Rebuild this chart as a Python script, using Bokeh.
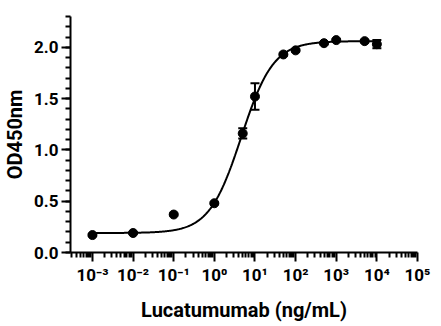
import numpy as np
from bokeh.plotting import figure
from bokeh.models import (ColumnDataSource, Range1d, FixedTicker, Whisker, TeeHead)
from bokeh.embed import file_html
from bokeh.resources import INLINE

# ---- data ----
conc = [0.001, 0.01, 0.1, 1, 5, 10, 50, 100, 500, 1000, 5000, 10000]
od = [0.17, 0.19, 0.37, 0.48, 1.16, 1.52, 1.93, 1.97, 2.04, 2.07, 2.06, 2.03]
err = [0.01, 0.01, 0.01, 0.01, 0.05, 0.13, 0.01, 0.01, 0.01, 0.01, 0.01, 0.04]

# 4PL fit parameters (fitted curve of the reference)
fit_bottom = 0.19
fit_top = 2.06
fit_ec50 = 4.6
fit_hill = 1.1
fit_x_min_exp = -3
fit_x_max_exp = 4

x_tick_exps = [-3, -2, -1, 0, 1, 2, 3, 4, 5]
x_tick_labels = ["10⁻³", "10⁻²", "10⁻¹", "10⁰", "10¹", "10²", "10³", "10⁴", "10⁵"]
y_ticks = [0.0, 0.5, 1.0, 1.5, 2.0]
y_tick_labels = ["0.0", "0.5", "1.0", "1.5", "2.0"]

FONT = "Roboto"

p = figure(
    x_axis_type="log",
    frame_width=347, frame_height=236,
    min_border_left=62, min_border_right=16, min_border_top=16, min_border_bottom=58,
    x_range=Range1d(10 ** -3.54, 1e5), y_range=Range1d(0, 2.3),
    output_backend="svg", toolbar_location=None,
)
p.outline_line_color = None
p.xgrid.visible = False
p.ygrid.visible = False
p.background_fill_color = "white"
p.border_fill_color = "white"

# fitted curve
xs = np.logspace(fit_x_min_exp, fit_x_max_exp, 400)
ys = fit_bottom + (fit_top - fit_bottom) / (1 + (fit_ec50 / xs) ** fit_hill)
p.line(xs, ys, line_color="black", line_width=2)

# data points with error bars
src = ColumnDataSource(dict(
    x=conc, y=od,
    upper=[v + e for v, e in zip(od, err)],
    lower=[v - e for v, e in zip(od, err)],
))
wh = Whisker(base="x", upper="upper", lower="lower", source=src,
             line_color="black", line_width=2,
             upper_head=TeeHead(size=9, line_width=2, line_color="black"),
             lower_head=TeeHead(size=9, line_width=2, line_color="black"))
p.add_layout(wh)
p.scatter("x", "y", source=src, size=9, color="black")

# x axis
major_x = [10.0 ** e for e in x_tick_exps]
minor_x = [k * 10.0 ** e for e in range(-4, 5) for k in range(2, 10)
           if 10 ** -3.54 <= k * 10.0 ** e <= 1e5]
p.xaxis.ticker = FixedTicker(ticks=major_x, minor_ticks=minor_x)
p.xaxis.major_label_overrides = {t: l for t, l in zip(major_x, x_tick_labels)}
p.xaxis.axis_label = "Lucatumumab (ng/mL)"

# y axis
p.yaxis.ticker = FixedTicker(ticks=y_ticks,
                             minor_ticks=[round(i * 0.1, 1) for i in range(0, 24)])
p.yaxis.major_label_overrides = {t: l for t, l in zip(y_ticks, y_tick_labels)}
p.yaxis.axis_label = "OD450nm"

for ax in (p.xaxis, p.yaxis):
    ax.axis_line_width = 2
    ax.axis_line_color = "black"
    ax.major_tick_line_width = 2
    ax.minor_tick_line_width = 2
    ax.major_tick_line_color = "black"
    ax.minor_tick_line_color = "black"
    ax.major_tick_in = 0
    ax.minor_tick_in = 0
    ax.major_tick_out = 9
    ax.minor_tick_out = 5
    ax.major_label_text_font = FONT
    ax.major_label_text_font_style = "bold"
    ax.major_label_text_font_size = "17px"
    ax.major_label_text_color = "black"
    ax.axis_label_text_font = FONT
    ax.axis_label_text_font_style = "bold"
    ax.axis_label_text_font_size = "20px"
    ax.axis_label_text_color = "black"

p.xaxis.major_label_standoff = 3
p.yaxis.major_label_standoff = 3
p.xaxis.axis_label_standoff = 10
p.yaxis.axis_label_standoff = 4

open("out.html", "w").write(file_html(p, INLINE))
